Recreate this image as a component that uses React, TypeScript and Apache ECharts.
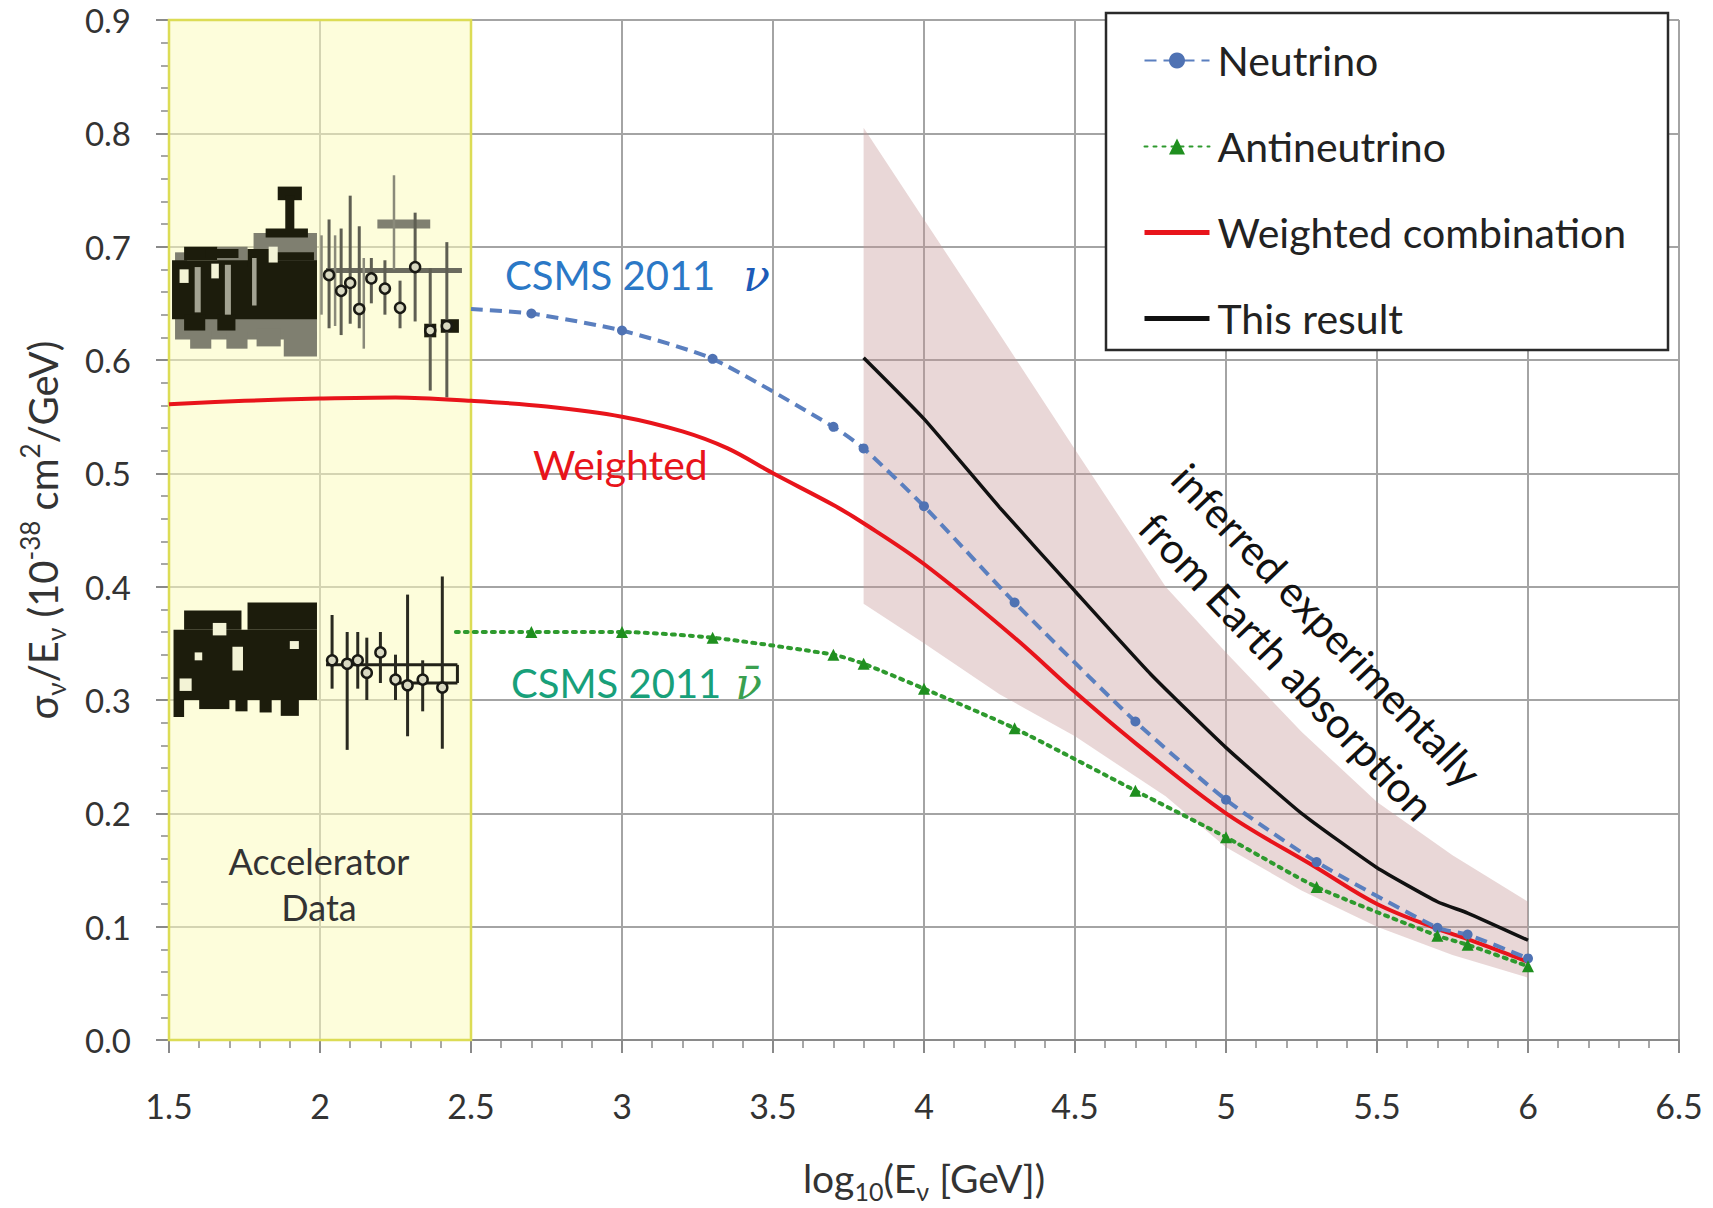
import React, { useEffect, useRef } from 'react';
import * as echarts from 'echarts';

const FONT = 'Lato, "Open Sans", sans-serif';

// ---- Model curves ----
const nuX = [2.5, 2.7, 3.0, 3.3, 3.7, 3.8, 4.0, 4.3, 4.7, 5.0, 5.3, 5.7, 5.8, 6.0];
const nuY = [0.645, 0.641, 0.626, 0.601, 0.541, 0.522, 0.471, 0.386, 0.281, 0.212, 0.157, 0.099, 0.093, 0.072];

const nubarX = [2.45, 2.7, 3.0, 3.3, 3.7, 3.8, 4.0, 4.3, 4.7, 5.0, 5.3, 5.7, 5.8, 6.0];
const nubarY = [0.36, 0.36, 0.36, 0.355, 0.34, 0.332, 0.31, 0.275, 0.22, 0.179, 0.135, 0.092, 0.084, 0.065];

const weightedX = [1.5, 1.75, 2.0, 2.25, 2.5, 2.75, 3.0, 3.2, 3.35, 3.5, 3.7, 3.8, 4.0, 4.3, 4.5, 4.7, 5.0, 5.3, 5.5, 5.7, 5.8, 6.0];
const weightedY = [0.561, 0.564, 0.566, 0.567, 0.564, 0.559, 0.55, 0.537, 0.522, 0.5, 0.472, 0.456, 0.42, 0.355, 0.307, 0.262, 0.2, 0.152, 0.12, 0.098, 0.089, 0.069];

const resultX = [3.8, 4.0, 4.25, 4.5, 4.75, 5.0, 5.25, 5.5, 5.7, 5.8, 6.0];
const resultY = [0.602, 0.548, 0.47, 0.396, 0.323, 0.258, 0.2, 0.152, 0.122, 0.112, 0.088];

// ---- Uncertainty band ----
const bandX = [3.8, 4.0, 4.25, 4.5, 4.8, 5.0, 5.25, 5.5, 5.75, 6.0];
const bandUpper = [0.805, 0.724, 0.623, 0.521, 0.4, 0.342, 0.272, 0.21, 0.163, 0.122];
const bandLower = [0.385, 0.35, 0.305, 0.268, 0.215, 0.17, 0.132, 0.1, 0.075, 0.055];

// ---- Accelerator data (boxes: [x1, x2, y1, y2]) ----
const accNuGrayBoxes = [
  [1.52, 1.99, 0.618, 0.656], [1.57, 1.64, 0.61, 0.625], [1.69, 1.76, 0.61, 0.625],
  [1.79, 1.87, 0.612, 0.628], [1.88, 1.99, 0.603, 0.625], [1.78, 1.99, 0.683, 0.712],
  [1.66, 1.76, 0.655, 0.7], [1.52, 1.56, 0.655, 0.695], [2.19, 2.365, 0.716, 0.724],
];
const accNuBlackBoxes = [
  [1.51, 1.99, 0.636, 0.688], [1.55, 1.66, 0.688, 0.7], [1.62, 1.73, 0.69, 0.698],
  [1.76, 1.84, 0.682, 0.698], [1.84, 1.98, 0.688, 0.695], [1.86, 1.94, 0.741, 0.753],
  [1.885, 1.915, 0.71, 0.745], [1.82, 1.96, 0.708, 0.716], [1.55, 1.62, 0.626, 0.64],
  [1.66, 1.72, 0.626, 0.64], [2.4, 2.46, 0.624, 0.636], [2.345, 2.385, 0.62, 0.632],
];
const accNuHoleBoxes = [
  [1.535, 1.565, 0.668, 0.68], [1.64, 1.665, 0.672, 0.685], [1.83, 1.86, 0.686, 0.7],
];
const accNuLightBoxes = [
  [1.585, 1.605, 0.642, 0.682], [1.685, 1.705, 0.64, 0.684], [1.775, 1.79, 0.648, 0.69],
];
const accNuPoints = [
  [2.03, 0.675, 0.628, 0.724], [2.07, 0.661, 0.622, 0.716], [2.1, 0.668, 0.632, 0.745],
  [2.13, 0.645, 0.628, 0.718], [2.17, 0.672, 0.65, 0.69], [2.215, 0.663, 0.64, 0.688],
  [2.265, 0.646, 0.628, 0.67], [2.315, 0.682, 0.634, 0.73], [2.365, 0.626, 0.573, 0.681],
  [2.42, 0.63, 0.567, 0.704],
];
const accNuBars = [
  [2.245, 0.68, 0.763], [2.05, 0.63, 0.71], [2.005, 0.64, 0.71], [2.145, 0.61, 0.69],
];
const accNuLines = [[2.02, 2.47, 0.679, 0.679]];

const accNubarBlackBoxes = [
  [1.515, 1.99, 0.3, 0.362], [1.55, 1.74, 0.362, 0.379], [1.76, 1.99, 0.362, 0.386],
  [1.515, 1.55, 0.285, 0.3], [1.6, 1.7, 0.292, 0.3], [1.72, 1.76, 0.29, 0.3],
  [1.8, 1.84, 0.289, 0.3], [1.87, 1.93, 0.286, 0.3],
];
const accNubarHoleBoxes = [
  [1.645, 1.69, 0.357, 0.368], [1.535, 1.575, 0.308, 0.319], [1.71, 1.745, 0.326, 0.347],
  [1.585, 1.61, 0.335, 0.342], [1.9, 1.93, 0.345, 0.352],
];
const accNubarPoints = [
  [2.04, 0.335, 0.31, 0.375], [2.09, 0.332, 0.256, 0.36], [2.125, 0.335, 0.31, 0.36],
  [2.155, 0.324, 0.3, 0.355], [2.2, 0.342, 0.315, 0.36], [2.25, 0.318, 0.3, 0.34],
  [2.29, 0.313, 0.268, 0.393], [2.34, 0.318, 0.29, 0.335], [2.405, 0.311, 0.257, 0.409],
];
const accNubarLines = [
  [2.02, 2.455, 0.331, 0.331], [2.26, 2.455, 0.315, 0.315], [2.455, 2.455, 0.315, 0.331],
];

const legendNames = ['Neutrino', 'Antineutrino', 'Weighted combination', 'This result'];

function boxSeries(data: number[][], color: string, z: number) {
  return {
    type: 'custom', data, z, silent: true, encode: { x: [0, 1], y: [2, 3] },
    renderItem: (_p: any, api: any) => {
      const a = api.coord([api.value(0), api.value(3)]);
      const b = api.coord([api.value(1), api.value(2)]);
      return { type: 'rect', shape: { x: a[0], y: a[1], width: b[0] - a[0], height: b[1] - a[1] }, style: { fill: color } };
    },
  };
}
function lineSegSeries(data: number[][], color: string, width: number, z: number) {
  return {
    type: 'custom', data, z, silent: true, encode: { x: [0, 1], y: [2, 3] },
    renderItem: (_p: any, api: any) => {
      const a = api.coord([api.value(0), api.value(2)]);
      const b = api.coord([api.value(1), api.value(3)]);
      return { type: 'line', shape: { x1: a[0], y1: a[1], x2: b[0], y2: b[1] }, style: { stroke: color, lineWidth: width } };
    },
  };
}
function barSeries(data: number[][], color: string, z: number) {
  return {
    type: 'custom', data, z, silent: true, encode: { x: 0, y: [1, 2] },
    renderItem: (_p: any, api: any) => {
      const a = api.coord([api.value(0), api.value(1)]);
      const b = api.coord([api.value(0), api.value(2)]);
      return { type: 'line', shape: { x1: a[0], y1: a[1], x2: b[0], y2: b[1] }, style: { stroke: color, lineWidth: 2.5 } };
    },
  };
}
function pointSeries(data: number[][], barColor: string, z: number) {
  return {
    type: 'custom', data, z, silent: true, encode: { x: 0, y: [1, 2, 3] },
    renderItem: (_p: any, api: any) => {
      const c = api.coord([api.value(0), api.value(1)]);
      const lo = api.coord([api.value(0), api.value(2)]);
      const hi = api.coord([api.value(0), api.value(3)]);
      return {
        type: 'group',
        children: [
          { type: 'line', shape: { x1: lo[0], y1: lo[1], x2: hi[0], y2: hi[1] }, style: { stroke: barColor, lineWidth: 3 } },
          { type: 'circle', shape: { cx: c[0], cy: c[1], r: 5 }, style: { fill: '#d9d9c2', stroke: '#1a1a14', lineWidth: 2.5 } },
        ],
      };
    },
  };
}

const option: any = {
  animation: false,
  backgroundColor: '#ffffff',
  grid: { left: 169, top: 20, width: 1510, height: 1027 },
  xAxis: {
    type: 'value', min: 1.5, max: 6.5, interval: 0.5,
    axisLine: { show: true, onZero: false, lineStyle: { color: '#8a8a8a', width: 2 } },
    axisTick: { show: true, inside: false, length: 13, lineStyle: { color: '#8a8a8a', width: 2 } },
    minorTick: { show: true, splitNumber: 5, length: 8, lineStyle: { color: '#8a8a8a', width: 1.5 } },
    splitLine: { show: true, lineStyle: { color: '#a4a4a4', width: 2 } },
    axisLabel: { fontFamily: FONT, fontSize: 34, lineHeight: 34, color: '#333', margin: 48 },
    name: '{i|log}{s|10}{i|(E}{s|ν}{i| [GeV])}',
    nameLocation: 'middle', nameGap: 113,
    nameTextStyle: {
      rich: {
        i: { fontFamily: FONT, fontSize: 39, color: '#333', lineHeight: 50 },
        s: { fontFamily: FONT, fontSize: 25, color: '#333', lineHeight: 24, verticalAlign: 'bottom' },
      },
    },
  },
  yAxis: {
    type: 'value', min: 0, max: 0.9, interval: 0.1,
    axisLine: { show: true, lineStyle: { color: '#8a8a8a', width: 2 } },
    axisTick: { show: true, inside: false, length: 13, lineStyle: { color: '#8a8a8a', width: 2 } },
    minorTick: { show: true, splitNumber: 5, length: 8, lineStyle: { color: '#8a8a8a', width: 1.5 } },
    splitLine: { show: true, lineStyle: { color: '#a4a4a4', width: 2 } },
    axisLabel: { fontFamily: FONT, fontSize: 33, lineHeight: 30, color: '#333', margin: 38, formatter: (v: number) => v.toFixed(1) },
    name: '{i|σ}{s|ν}{i|/E}{s|ν}{i| (10}{p|-38}{i| cm}{p|2}{i|/GeV)}',
    nameLocation: 'middle', nameGap: 100,
    nameTextStyle: {
      rich: {
        i: { fontFamily: FONT, fontSize: 40, color: '#333', lineHeight: 52 },
        s: { fontFamily: FONT, fontSize: 26, color: '#333', lineHeight: 24, verticalAlign: 'bottom' },
        p: { fontFamily: FONT, fontSize: 26, color: '#333', lineHeight: 40, verticalAlign: 'top' },
      },
    },
  },
  legend: {
    show: true, orient: 'vertical', left: 1142, top: 40, itemWidth: 65, itemHeight: 20, itemGap: 45,
    padding: 0, selectedMode: false, z: 20,
    textStyle: { fontFamily: FONT, fontSize: 41, color: '#222', lineHeight: 40, padding: [0, 0, 0, 3] },
    data: [
      { name: legendNames[0] },
      { name: legendNames[1] },
      { name: legendNames[2], itemStyle: { opacity: 0 }, lineStyle: { width: 5 } },
      { name: legendNames[3], itemStyle: { opacity: 0 }, lineStyle: { width: 5 } },
    ],
  },
  graphic: [
    { type: 'rect', z: 15, shape: { x: 1106, y: 13, width: 562, height: 337 }, style: { fill: '#ffffff', stroke: '#2a2a2a', lineWidth: 2.5 } },
    {
      type: 'text', z: 16, x: 505, y: 275,
      style: {
        text: '{a|CSMS 2011}{n|  ν}', align: 'left', verticalAlign: 'middle',
        rich: {
          a: { fontFamily: FONT, fontSize: 40, fill: '#2b78c6' },
          n: { fontFamily: '"DejaVu Serif", serif', fontStyle: 'italic', fontSize: 44, fill: '#1c5bb8' },
        },
      },
    },
    {
      type: 'text', z: 16, x: 533, y: 464,
      style: { text: 'Weighted', fontFamily: FONT, fontSize: 41, fill: '#e8141b', align: 'left', verticalAlign: 'middle' },
    },
    {
      type: 'text', z: 16, x: 511, y: 683,
      style: {
        text: '{a|CSMS 2011}{n| ν̄}', align: 'left', verticalAlign: 'middle',
        rich: {
          a: { fontFamily: FONT, fontSize: 40, fill: '#18a07a' },
          n: { fontFamily: '"DejaVu Serif", serif', fontStyle: 'italic', fontSize: 44, fill: '#3aa050' },
        },
      },
    },
    {
      type: 'text', z: 16, x: 319, y: 884,
      style: { text: 'Accelerator\nData', fontFamily: FONT, fontSize: 36, lineHeight: 46, fill: '#333', align: 'center', verticalAlign: 'middle' },
    },
    {
      type: 'text', z: 16, x: 1327, y: 625, rotation: -0.81,
      style: { text: 'inferred experimentally', fontFamily: FONT, fontSize: 42, fill: '#111', align: 'center', verticalAlign: 'middle' },
    },
    {
      type: 'text', z: 16, x: 1287, y: 666, rotation: -0.81,
      style: { text: 'from Earth absorption', fontFamily: FONT, fontSize: 42, fill: '#111', align: 'center', verticalAlign: 'middle' },
    },
  ],
  series: [
    {
      type: 'line', data: [], z: 1, silent: true,
      markArea: {
        silent: true,
        itemStyle: { color: 'rgba(252,252,190,0.55)', borderColor: '#dcdc55', borderWidth: 2.5 },
        data: [[{ xAxis: 1.5, yAxis: 0 }, { xAxis: 2.5, yAxis: 0.9 }]],
      },
    },
    {
      type: 'custom', z: 1, silent: true, data: [[bandX[0], bandLower[0]]], encode: { x: 0, y: 1 },
      renderItem: (_p: any, api: any) => {
        const up = bandX.map((x, i) => api.coord([x, bandUpper[i]]));
        const lo = bandX.map((x, i) => api.coord([x, bandLower[i]])).reverse();
        return { type: 'polygon', shape: { points: up.concat(lo) }, style: { fill: 'rgba(196,150,150,0.38)' } };
      },
    },
    boxSeries(accNuGrayBoxes, '#7f7f70', 3),
    boxSeries(accNuBlackBoxes, '#1c1c0c', 4),
    boxSeries(accNuHoleBoxes, '#f3f3d6', 5),
    boxSeries(accNuLightBoxes, '#a3a392', 5),
    lineSegSeries(accNuLines, '#6a6a5e', 5, 5),
    barSeries(accNuBars, '#8a8a7a', 5),
    pointSeries(accNuPoints, '#5e5e52', 6),
    boxSeries(accNubarBlackBoxes, '#1c1c0c', 4),
    boxSeries(accNubarHoleBoxes, '#f3f3d6', 5),
    lineSegSeries(accNubarLines, '#222218', 3, 5),
    pointSeries(accNubarPoints, '#2a2a20', 6),
    {
      name: 'Weighted combination', type: 'line', z: 7, symbol: 'none', smooth: 0.35,
      lineStyle: { color: '#e8141b', width: 4 }, itemStyle: { color: '#e8141b' },
      data: weightedX.map((x, i) => [x, weightedY[i]]),
    },
    {
      name: 'Neutrino', type: 'line', z: 8, symbol: 'circle', symbolSize: 10, smooth: 0.2,
      lineStyle: { color: '#5a7fbf', width: 4, type: [12, 7] }, itemStyle: { color: '#4f72b3' },
      data: nuX.map((x, i) => (i === 0 ? { value: [x, nuY[i]], symbol: 'none' } : [x, nuY[i]])),
    },
    {
      name: 'Antineutrino', type: 'line', z: 8, symbol: 'triangle', symbolSize: 12, smooth: 0.2,
      lineStyle: { color: '#2e9a2e', width: 4, type: [3, 6], cap: 'round' }, itemStyle: { color: '#1f8f1f' },
      data: nubarX.map((x, i) => (i === 0 ? { value: [x, nubarY[i]], symbol: 'none' } : [x, nubarY[i]])),
    },
    {
      name: 'This result', type: 'line', z: 9, symbol: 'none', smooth: 0.15,
      lineStyle: { color: '#111111', width: 3.5 }, itemStyle: { color: '#111111' },
      data: resultX.map((x, i) => [x, resultY[i]]),
    },
  ],
};

export default function App() {
  const ref = useRef<HTMLDivElement>(null);
  useEffect(() => {
    document.body.style.margin = '0';
    const chart = echarts.init(ref.current as HTMLDivElement, null, { renderer: 'svg' });
    chart.setOption(option);
    return () => chart.dispose();
  }, []);
  return <div ref={ref} style={{ width: 1713, height: 1208 }} />;
}
